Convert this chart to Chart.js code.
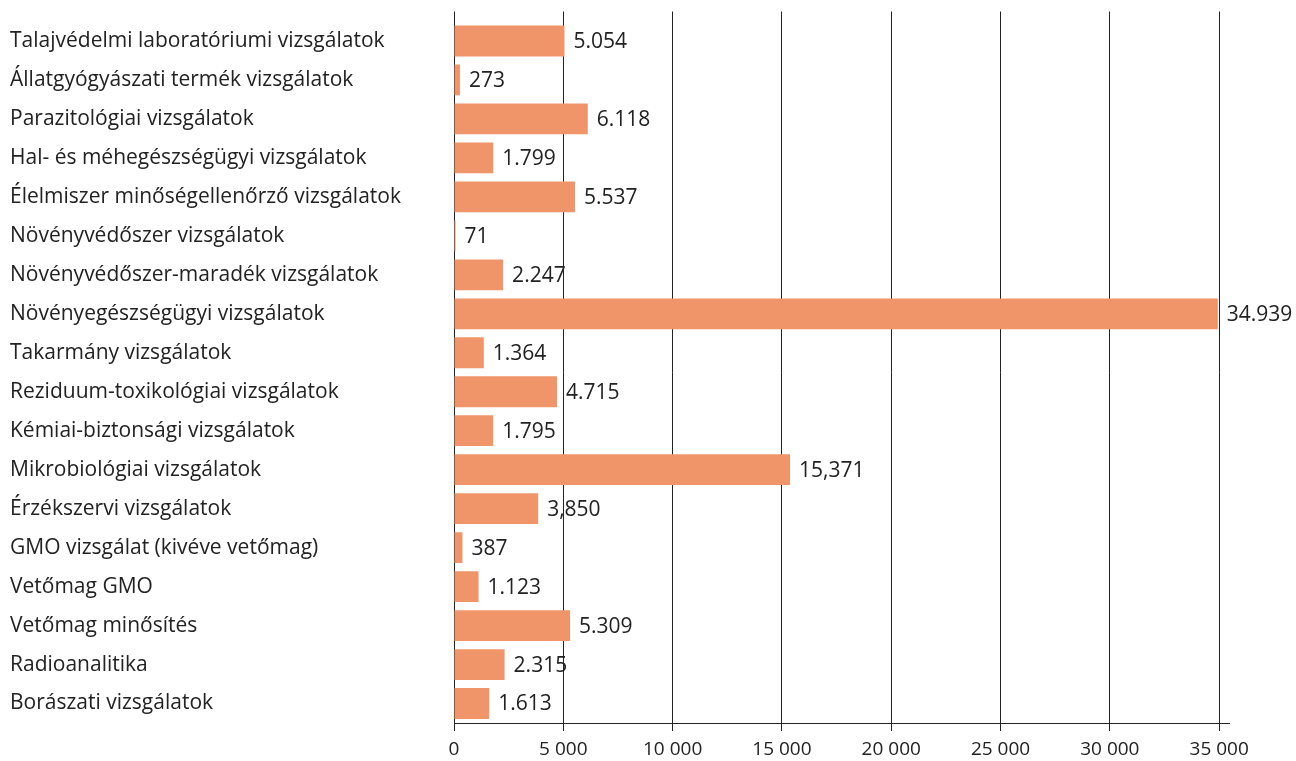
<!DOCTYPE html>
<html>
<head>
<meta charset="utf-8">
<script src="https://cdn.jsdelivr.net/npm/chart.js@4/dist/chart.umd.min.js"></script>
<style>
html,body{margin:0;padding:0;background:#fff;}
#wrap{width:1296px;height:761px;position:relative;}
</style>
</head>
<body>
<div id="wrap"><canvas id="c"></canvas></div>
<script>
const categories = [
  "Talajvédelmi laboratóriumi vizsgálatok",
  "Állatgyógyászati termék vizsgálatok",
  "Parazitológiai vizsgálatok",
  "Hal- és méhegészségügyi vizsgálatok",
  "Élelmiszer minőségellenőrző vizsgálatok",
  "Növényvédőszer vizsgálatok",
  "Növényvédőszer-maradék vizsgálatok",
  "Növényegészségügyi vizsgálatok",
  "Takarmány vizsgálatok",
  "Reziduum-toxikológiai vizsgálatok",
  "Kémiai-biztonsági vizsgálatok",
  "Mikrobiológiai vizsgálatok",
  "Érzékszervi vizsgálatok",
  "GMO vizsgálat (kivéve vetőmag)",
  "Vetőmag GMO",
  "Vetőmag minősítés",
  "Radioanalitika",
  "Borászati vizsgálatok"
];
const values = [5054, 273, 6118, 1799, 5537, 71, 2247, 34939, 1364, 4715, 1795, 15371, 3850, 387, 1123, 5309, 2315, 1613];
const valueLabels = ["5.054","273","6.118","1.799","5.537","71","2.247","34.939","1.364","4.715","1.795","15,371","3,850","387","1.123","5.309","2.315","1.613"];
const tickValues = [0, 5000, 10000, 15000, 20000, 25000, 30000, 35000];
const tickLabels = ["0","5 000","10 000","15 000","20 000","25 000","30 000","35 000"];

const FONT = "'Open Sans', 'Noto Sans', sans-serif";

function alignPx(p) { return Math.round(p - 0.5) + 0.5; }

const valueLabelPlugin = {
  id: 'valueLabels',
  afterDatasetsDraw(chart) {
    const ctx = chart.ctx;
    const meta = chart.getDatasetMeta(0);
    ctx.save();
    ctx.font = "21px " + FONT;
    ctx.fillStyle = '#222';
    ctx.textAlign = 'left';
    ctx.textBaseline = 'middle';
    meta.data.forEach((bar, i) => {
      ctx.fillText(valueLabels[i], bar.x + 9, bar.y + 1);
    });
    ctx.restore();
  }
};

const gridExtendPlugin = {
  id: 'gridExtend',
  beforeDatasetsDraw(chart) {
    const ctx = chart.ctx;
    const xs = chart.scales.x;
    const top = chart.chartArea.top;
    ctx.save();
    ctx.strokeStyle = '#222';
    ctx.lineWidth = 1;
    tickValues.forEach(v => {
      const px = alignPx(xs.getPixelForValue(v));
      ctx.beginPath();
      ctx.moveTo(px, top - 10);
      ctx.lineTo(px, top + 1);
      ctx.stroke();
    });
    ctx.restore();
  }
};

new Chart(document.getElementById('c'), {
  type: 'bar',
  data: {
    labels: categories,
    datasets: [{
      data: values,
      backgroundColor: '#F0956A',
      borderWidth: 0,
      barPercentage: 0.79,
      categoryPercentage: 1.0
    }]
  },
  options: {
    indexAxis: 'y',
    responsive: true,
    maintainAspectRatio: false,
    animation: false,
    layout: { padding: { left: 10, right: 67, top: 21.5, bottom: 0 } },
    plugins: {
      legend: { display: false },
      tooltip: { enabled: false }
    },
    scales: {
      x: {
        type: 'linear',
        min: 0,
        max: 35450,
        afterBuildTicks(scale) {
          scale.ticks = tickValues.map(v => ({ value: v }));
        },
        afterFit(scale) { scale.height = 38; },
        ticks: {
          callback(value) {
            const i = tickValues.indexOf(value);
            return i >= 0 ? tickLabels[i] : '';
          },
          color: '#222',
          font: { family: FONT, size: 19 },
          padding: 7,
          maxRotation: 0,
          autoSkip: false
        },
        grid: {
          display: true,
          color: '#222',
          lineWidth: 1,
          drawTicks: true,
          tickLength: 8
        },
        border: { display: true, color: '#222', width: 1 }
      },
      y: {
        type: 'category',
        afterFit(scale) { scale.width = 444; },
        ticks: {
          crossAlign: 'far',
          color: '#222',
          font: { family: FONT, size: 21 },
          padding: 0,
          autoSkip: false
        },
        grid: { display: false, drawTicks: false },
        border: { display: true, color: '#222', width: 1 }
      }
    }
  },
  plugins: [valueLabelPlugin, gridExtendPlugin]
});
</script>
</body>
</html>
